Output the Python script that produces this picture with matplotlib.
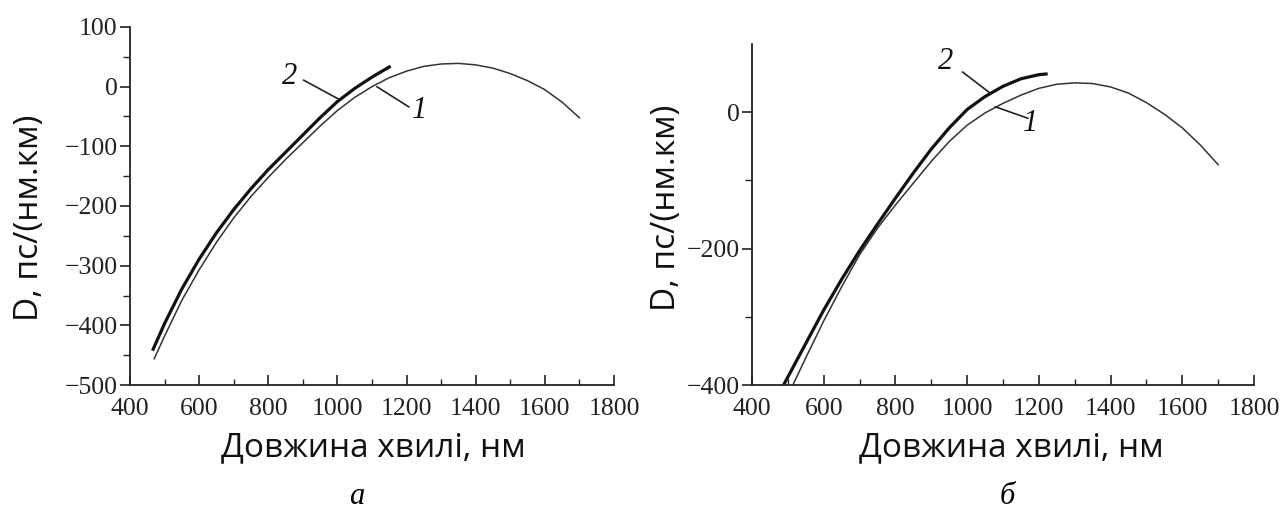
import matplotlib
matplotlib.use("Agg")
import matplotlib.pyplot as plt
from matplotlib.ticker import MultipleLocator, FixedLocator


# ─── Дані ────────────────────────────────────────────────────────────────────

# (а) крива 1 — тонка
wl_a1 = [470, 500, 550, 600, 650, 700, 750, 800, 850, 900, 950, 1000, 1050,
         1100, 1150, 1200, 1250, 1300, 1350, 1400, 1450, 1500, 1550, 1600,
         1650, 1700]
d_a1 = [-456, -418, -358, -307, -261, -220, -184, -152, -122, -94, -66, -40,
        -18, 0, 15, 26, 34, 38, 39, 36.5, 31, 22, 10, -5, -26, -52]

# (а) крива 2 — товста
wl_a2 = [467, 500, 550, 600, 650, 700, 750, 800, 850, 900, 950, 1000, 1050,
         1100, 1150]
d_a2 = [-440, -397, -339, -289, -245, -206, -171, -139, -110, -81, -52, -25,
        -3, 16, 33]

# (б) крива 1 — тонка
wl_b1 = [514, 550, 600, 650, 700, 750, 800, 850, 900, 950, 1000, 1050, 1100,
         1150, 1200, 1250, 1300, 1350, 1400, 1450, 1500, 1550, 1600, 1650,
         1700]
d_b1 = [-400, -360, -306, -256, -209, -170, -136, -104, -72, -43, -19, -1, 13,
        25, 35, 41, 43, 42, 37, 28, 14, -3, -23, -48, -77]

# (б) крива 2 — товста
wl_b2 = [488, 550, 600, 650, 700, 750, 800, 850, 900, 950, 1000, 1050, 1100,
         1150, 1200, 1220]
d_b2 = [-400, -339, -290, -245, -203, -164, -126, -89, -54, -23, 4, 23, 38,
        49, 55, 56]

XLABEL = "Довжина хвилі, нм"
YLABEL = "D, пс/(нм.км)"

SANS = ["Open Sans", "DejaVu Sans"]
SERIF = ["Liberation Serif", "DejaVu Serif"]
INK = "#222222"


def style_axes(ax):
    for side in ("top", "right"):
        ax.spines[side].set_visible(False)
    for side in ("left", "bottom"):
        ax.spines[side].set_linewidth(1.3)
        ax.spines[side].set_color(INK)
    ax.tick_params(axis="y", which="major", direction="out", length=7,
                   width=1.2, pad=2, labelsize=18.5, colors=INK)
    ax.tick_params(axis="y", which="minor", direction="out", length=5,
                   width=1.0, colors=INK)
    ax.tick_params(axis="x", which="major", direction="in", length=7,
                   width=1.2, pad=9, labelsize=18.5, colors=INK)
    ax.tick_params(axis="x", which="minor", direction="in", length=4,
                   width=1.0, colors=INK)
    for lab in ax.get_xticklabels() + ax.get_yticklabels():
        lab.set_family(SERIF)
    ax.set_xlim(400, 1800)
    ax.xaxis.set_major_locator(MultipleLocator(200))
    ax.xaxis.set_minor_locator(MultipleLocator(100))


def leader(ax, label, text_xy, start, end):
    ax.annotate("", xy=end, xytext=start,
                arrowprops=dict(arrowstyle="-", lw=1.2, color=INK,
                                shrinkA=0, shrinkB=0))
    ax.text(*text_xy, label, family=SERIF, style="italic", fontsize=22,
            ha="center", va="center", color="#111111")


fig = plt.figure(figsize=(12.82, 5.2), dpi=100)

# ─── (а) ──────────────────────────────────────────────────────────────────────
ax1 = fig.add_axes([0.1014, 0.2596, 0.3775, 0.6885])
ax1.plot(wl_a1, d_a1, color="#333333", lw=1.1)
ax1.plot(wl_a2, d_a2, color="#111111", lw=2.3)
ax1.set_ylim(-500, 100)
ax1.yaxis.set_major_locator(MultipleLocator(100))
ax1.yaxis.set_minor_locator(MultipleLocator(50))
style_axes(ax1)
leader(ax1, "2", (862, 17), (902, 11), (1004, -21))
leader(ax1, "1", (1238, -40), (1114, 0), (1207, -34))

# ─── (б) ──────────────────────────────────────────────────────────────────────
ax2 = fig.add_axes([0.5866, 0.2596, 0.3916, 0.6558])
ax2.plot(wl_b1, d_b1, color="#333333", lw=1.1)
ax2.plot(wl_b2, d_b2, color="#111111", lw=2.3)
ax2.set_ylim(-400, 100)
ax2.yaxis.set_major_locator(FixedLocator([-400, -200, 0]))
ax2.yaxis.set_minor_locator(FixedLocator([-300, -100]))
style_axes(ax2)
leader(ax2, "2", (941, 74), (987, 59), (1064, 28))
leader(ax2, "1", (1178, -17), (1078, 8), (1170, -9))

# ─── Підписи ──────────────────────────────────────────────────────────────────
fig.text(30 / 1282, 1 - 218 / 520, YLABEL, rotation=90, ha="center",
         va="center", fontsize=24, family=SANS, color="#111111")
fig.text(666 / 1282, 1 - 208 / 520, YLABEL, rotation=90, ha="center",
         va="center", fontsize=24, family=SANS, color="#111111")
fig.text(0.291, 1 - 448 / 520, XLABEL, ha="center", va="center",
         fontsize=24, family=SANS, color="#111111")
fig.text(0.789, 1 - 448 / 520, XLABEL, ha="center", va="center",
         fontsize=24, family=SANS, color="#111111")
fig.text(0.2785, 1 - 497 / 520, "а", ha="center", va="center",
         fontsize=22, family=SERIF, style="italic")
fig.text(0.786, 1 - 497 / 520, "б", ha="center", va="center",
         fontsize=22, family=SERIF, style="italic")

fig.savefig("out.png", dpi=100)
